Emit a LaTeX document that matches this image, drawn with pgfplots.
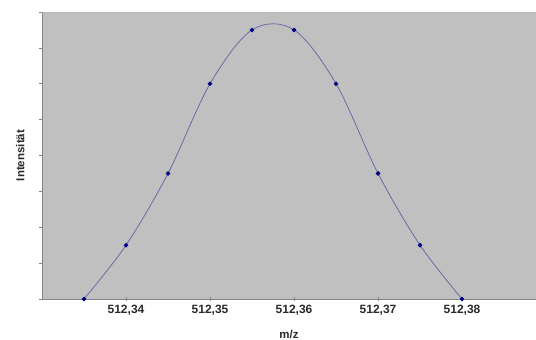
\documentclass[border=0pt]{standalone}
\usepackage{pgfplots}
\pgfplotsset{compat=1.18}
\usepackage{fontspec}
\setmainfont{Liberation Sans}
\definecolor{plotbg}{HTML}{C0C0C0}
\definecolor{axisgray}{HTML}{858585}
\definecolor{curve}{HTML}{6060A8}
\definecolor{markblue}{HTML}{000080}
\definecolor{labelgray}{HTML}{2A2A2A}
\begin{document}
\begin{tikzpicture}
\useasboundingbox (-42pt,-41pt) rectangle (494pt,299pt);
\begin{axis}[
  at={(0pt,0pt)}, anchor=south west,
  scale only axis,
  width=494pt, height=287pt,
  xmin=512.33, xmax=512.3888,
  ymin=0, ymax=8,
  axis background/.style={fill=plotbg},
  axis x line*=bottom, axis y line*=left,
  x axis line style={draw=axisgray, line width=0.9pt, -},
  y axis line style={draw=axisgray, line width=0.6pt, -},
  xtick={512.34,512.35,512.36,512.37,512.38},
  xticklabels={{512,34},{512,35},{512,36},{512,37},{512,38}},
  ytick={0,1,...,8},
  yticklabels={},
  tick style={draw=axisgray, line width=0.5pt},
  major tick length=3.5pt,
  xtick align=center, ytick align=outside,
  tick label style={font=\bfseries\fontsize{12}{14}\selectfont, text=labelgray},
  xticklabel style={yshift=-1pt},
  xlabel={m/z}, ylabel={Intensit\"at},
  label style={font=\bfseries\fontsize{11.5}{13}\selectfont, text=labelgray},
  xlabel style={at={(ticklabel cs:0.5)}, anchor=north, yshift=-8pt},
  ylabel style={at={(axis description cs:0,0.5)}, anchor=south, yshift=14pt},
  clip=false,
]
\draw[draw=gray!55, line width=0.8pt] (rel axis cs:0,1) -- (rel axis cs:1,1);
\addplot[color=curve, line width=0.7pt, smooth, tension=0.55,
  mark=*, mark size=1.9pt, mark options={fill=markblue, draw=markblue}]
  coordinates {
  (512.335,0)
  (512.340,1.5)
  (512.345,3.5)
  (512.350,6.0)
  (512.355,7.5)
  (512.360,7.5)
  (512.365,6.0)
  (512.370,3.5)
  (512.375,1.5)
  (512.380,0)
  };
\end{axis}
\end{tikzpicture}
\end{document}
